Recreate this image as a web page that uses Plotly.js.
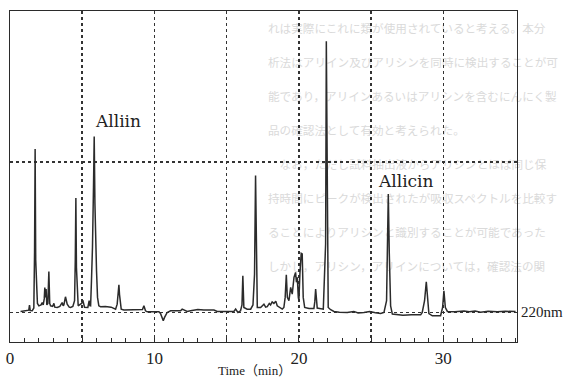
<!DOCTYPE html>
<html>
<head>
<meta charset="utf-8">
<script src="https://cdn.plot.ly/plotly-3.0.1.min.js"></script>
<style>
  html, body { margin:0; padding:0; background:#fff; }
  #wrap { position:relative; width:564px; height:377px; overflow:hidden; background:#fff; }
  #bg { position:absolute; left:0; top:0; width:564px; height:377px; z-index:0; }
  #bg div { position:absolute; white-space:nowrap; font-family:"Noto Sans CJK JP"; font-size:11.6px; line-height:10px; color:#dadada; }
  #chart { position:absolute; left:0; top:0; z-index:1; }
</style>
</head>
<body>
<div id="wrap">
  <div id="bg"></div>
  <div id="chart"></div>
</div>
<script>
// Retention time (min) and detector signal (relative units, 220 nm)
const timeMin = [
  0.73, 1.20, 1.30, 1.35, 1.40, 1.54, 1.65, 1.70, 1.74, 1.78, 1.81, 1.86, 1.90, 2.00, 2.15, 2.23, 2.30, 2.37, 2.41, 2.46,
  2.50, 2.55, 2.62, 2.69, 2.75, 2.81, 2.95, 3.04, 3.10, 3.27, 3.45, 3.61, 3.68, 3.73, 3.84, 3.92, 3.96, 4.10, 4.19, 4.35,
  4.47, 4.52, 4.56, 4.60, 4.65, 4.70, 4.72, 4.88, 4.96, 5.04, 5.10, 5.16, 5.39, 5.48, 5.53, 5.58, 5.64, 5.71, 5.78, 5.83,
  5.88, 5.92, 5.99, 6.06, 6.15, 6.27, 6.60, 7.00, 7.31, 7.42, 7.50, 7.54, 7.58, 7.61, 7.70, 7.88, 8.40, 9.04, 9.17, 9.27,
  9.38, 9.50, 10.00, 10.31, 10.42, 10.55, 10.61, 10.70, 10.88, 11.12, 11.50, 11.81, 11.92, 12.10, 12.27, 12.50, 12.73, 13.00, 13.42, 13.80,
  14.12, 14.35, 15.00, 15.50, 15.62, 15.78, 15.96, 16.06, 16.12, 16.19, 16.42, 16.66, 16.82, 16.93, 17.00, 17.07, 17.12, 17.35, 17.58, 17.70,
  17.81, 17.95, 18.04, 18.15, 18.27, 18.40, 18.50, 18.85, 18.96, 19.05, 19.13, 19.20, 19.31, 19.43, 19.54, 19.66, 19.77, 19.83, 19.89, 19.96,
  20.00, 20.07, 20.16, 20.23, 20.30, 20.40, 20.70, 21.04, 21.10, 21.16, 21.22, 21.27, 21.69, 21.78, 21.85, 21.90, 21.96, 22.03, 22.20, 22.43,
  22.80, 23.35, 23.80, 24.10, 24.50, 24.90, 25.30, 25.66, 25.89, 26.07, 26.12, 26.19, 26.26, 26.35, 26.47, 26.81, 27.20, 27.80, 28.43, 28.54,
  28.70, 28.82, 28.89, 29.00, 29.24, 29.60, 29.81, 29.95, 30.04, 30.14, 30.28, 30.80, 31.43, 31.80, 32.20, 32.58, 33.10, 33.74, 34.30, 35.00
];
const signal = [
  0.007, 0.010, 0.015, 0.049, 0.012, 0.011, 0.030, 0.400, 1.085, 0.350, 0.190, 0.150, 0.060, 0.044, 0.050, 0.066, 0.050, 0.090, 0.166, 0.100,
  0.155, 0.050, 0.060, 0.272, 0.060, 0.044, 0.040, 0.060, 0.035, 0.033, 0.040, 0.066, 0.044, 0.050, 0.104, 0.060, 0.055, 0.035, 0.033, 0.040,
  0.078, 0.350, 0.760, 0.300, 0.166, 0.060, 0.044, 0.055, 0.060, 0.082, 0.050, 0.035, 0.033, 0.078, 0.045, 0.044, 0.210, 0.432, 0.831, 1.167,
  0.720, 0.454, 0.277, 0.100, 0.044, 0.038, 0.040, 0.035, 0.022, 0.055, 0.150, 0.184, 0.120, 0.078, 0.022, 0.016, 0.018, 0.016, 0.020, 0.044,
  0.011, 0.004, 0.004, 0.004, -0.007, -0.040, -0.055, -0.033, 0.000, 0.011, 0.012, 0.011, 0.022, 0.012, 0.007, 0.012, 0.016, 0.020, 0.016, 0.018,
  0.016, 0.007, 0.006, 0.007, 0.022, 0.000, 0.011, 0.050, 0.244, 0.033, 0.022, 0.022, 0.050, 0.255, 0.908, 0.300, 0.033, 0.033, 0.055, 0.035,
  0.038, 0.060, 0.050, 0.070, 0.060, 0.075, 0.044, 0.022, 0.033, 0.100, 0.250, 0.100, 0.078, 0.166, 0.122, 0.233, 0.266, 0.200, 0.233, 0.100,
  0.078, 0.255, 0.392, 0.388, 0.100, 0.033, 0.027, 0.027, 0.070, 0.155, 0.060, 0.029, 0.022, 0.210, 0.454, 1.800, 0.454, 0.033, 0.018, 0.007,
  0.002, 0.000, 0.007, -0.004, 0.000, 0.006, -0.002, -0.007, 0.000, 0.078, 0.377, 0.786, 0.388, 0.044, -0.011, -0.016, -0.018, -0.016, -0.016, 0.000,
  0.078, 0.204, 0.122, -0.007, -0.022, -0.022, -0.022, 0.033, 0.144, 0.033, 0.007, 0.005, 0.010, 0.004, 0.010, 0.002, 0.008, 0.004, 0.008, 0.006
];
const majorTickVals = [0, 5, 10, 15, 20, 25, 30];
const majorTickText = ['0', '', '10', '', '20', '', '30'];
const refLevels = [0, 1];
const peakNames = ['Alliin', 'Allicin'];
const peakLabelTime = [7.5, 27.4];
const peakLabelLevel = [1.27, 0.87];
const wavelengthLabel = '220nm';
const xTitle = 'Time（min）';

// faint show-through text of the printed page
const pageLines = [
  'れは実際にこれに類が使用されていると考える。本分',
  '析法はアリイン及びアリシンを同時に検出することが可',
  '能であり，アリインあるいはアリシンを含むにんにく製',
  '品の確認法として有効と考えられた。',
  '　なお，ただし試料抽出液からアリシンとほぼ同じ保',
  '持時間にピークが検出されたが吸収スペクトルを比較す',
  'ることによりアリシンと識別することが可能であった',
  'しかし，アリシン，アリインについては，確認法の関'
];
const bg = document.getElementById('bg');
pageLines.forEach((s, i) => {
  const d = document.createElement('div');
  d.textContent = s;
  d.style.left = '268px';
  d.style.top = (23 + i * 34) + 'px';
  bg.appendChild(d);
});

const ink = '#2b2b2b';
const trace = {
  x: timeMin, y: signal, type: 'scatter', mode: 'lines',
  line: { color: ink, width: 1.5 }, hoverinfo: 'skip'
};

const annotations = peakNames.map((n, i) => ({
  x: peakLabelTime[i], y: peakLabelLevel[i], xref: 'x', yref: 'y',
  text: n, showarrow: false,
  font: { family: 'DejaVu Serif', size: 17, color: '#222' }
}));
annotations.push({
  x: 1, xref: 'paper', y: 0, yref: 'y', xanchor: 'left', xshift: 2,
  text: wavelengthLabel, showarrow: false,
  font: { family: 'Liberation Serif', size: 15, color: '#222' }
});
annotations.push({
  x: 0.482, xref: 'paper', y: 0, yref: 'paper', xanchor: 'center', yanchor: 'top', yshift: -19,
  text: xTitle, showarrow: false,
  font: { family: 'Liberation Serif, Noto Sans CJK JP', size: 13, color: '#222' }
});

const layout = {
  width: 564, height: 377,
  margin: { l: 10, r: 47, t: 11, b: 35, pad: 0 },
  paper_bgcolor: 'rgba(0,0,0,0)', plot_bgcolor: 'rgba(0,0,0,0)',
  showlegend: false,
  xaxis: {
    range: [0, 35.1], fixedrange: true,
    showline: true, mirror: true, linecolor: ink, linewidth: 1.3,
    tickmode: 'array', tickvals: majorTickVals, ticktext: majorTickText,
    ticks: 'inside', ticklen: 4, tickwidth: 1, tickcolor: ink,
    minor: { dtick: 1, tick0: 0, ticks: 'inside', ticklen: 4, tickwidth: 1, tickcolor: ink, showgrid: false },
    showgrid: true, griddash: 'dot', gridcolor: '#333', gridwidth: 1.6,
    zeroline: false,
    tickfont: { family: 'Liberation Serif', size: 17, color: '#222' }
  },
  yaxis: {
    range: [-0.196, 2.0], fixedrange: true,
    showline: true, mirror: true, linecolor: ink, linewidth: 1.3,
    tickmode: 'array', tickvals: refLevels, ticks: '', showticklabels: false,
    showgrid: true, griddash: 'dot', gridcolor: '#333', gridwidth: 1.6,
    zeroline: false
  },
  annotations: annotations
};

Plotly.newPlot('chart', [trace], layout, { displayModeBar: false, staticPlot: true });
</script>
</body>
</html>
